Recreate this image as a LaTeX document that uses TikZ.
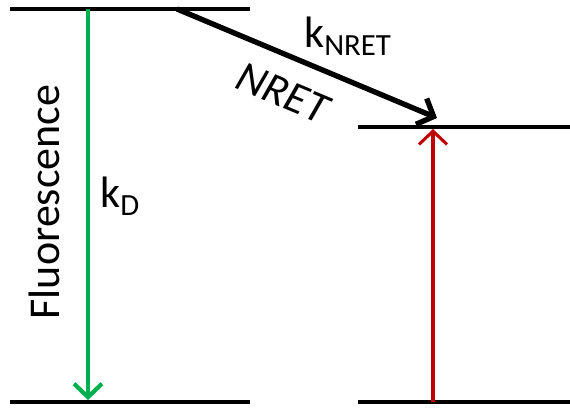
\documentclass[tikz,border=0pt]{standalone}
\usepackage{fontspec}
\setmainfont{Carlito}
\usepackage{tikz}
\usetikzlibrary{arrows.meta}
\definecolor{fluogreen}{RGB}{0,176,80}
\definecolor{excred}{RGB}{192,0,0}

\begin{document}
\begin{tikzpicture}[x=0.75pt,y=-0.75pt,
  every node/.style={font=\fontsize{33}{38}\selectfont, inner sep=2pt},
  level/.style={line width=2.6pt},
  barb/.style={-{Straight Barb[length=10pt,width=21pt]}}]
  \useasboundingbox (0,0) rectangle (570,407);
  % energy levels
  \coordinate (D1w) at (10,9);   \coordinate (D1e) at (250,9);
  \coordinate (D0w) at (10,402); \coordinate (D0e) at (250,402);
  \coordinate (A1w) at (358,127); \coordinate (A1e) at (570,127);
  \coordinate (A0w) at (358,402); \coordinate (A0e) at (570,402);
  \draw[level] (D1w)--(D1e); \draw[level] (D0w)--(D0e);
  \draw[level] (A1w)--(A1e); \draw[level] (A0w)--(A0e);
  % transitions
  \coordinate (fstart) at (88,9);   \coordinate (fend) at (88,400);
  \coordinate (nstart) at (177,9);  \coordinate (nend) at (437,118);
  \coordinate (rstart) at (433,402); \coordinate (rend) at (433,129);
  \draw[barb, fluogreen, line width=3.2pt] (fstart)--(fend);
  \draw[barb, excred, line width=2.3pt] (rstart)--(rend);
  \draw[barb, line width=4pt] (nstart)--(nend)
    node[pos=0.46, sloped, below=13pt] (nret) {\itshape NRET};
  \node[rotate=90] (fluo) at (44,202) {Fluorescence};
  \node[anchor=base west, inner sep=0pt] (kd) at (100,207) {k\textsubscript{D}};
  \node[anchor=base west, inner sep=0pt] (knret) at (304,47) {k\textsubscript{NRET}};
\end{tikzpicture}
\end{document}
